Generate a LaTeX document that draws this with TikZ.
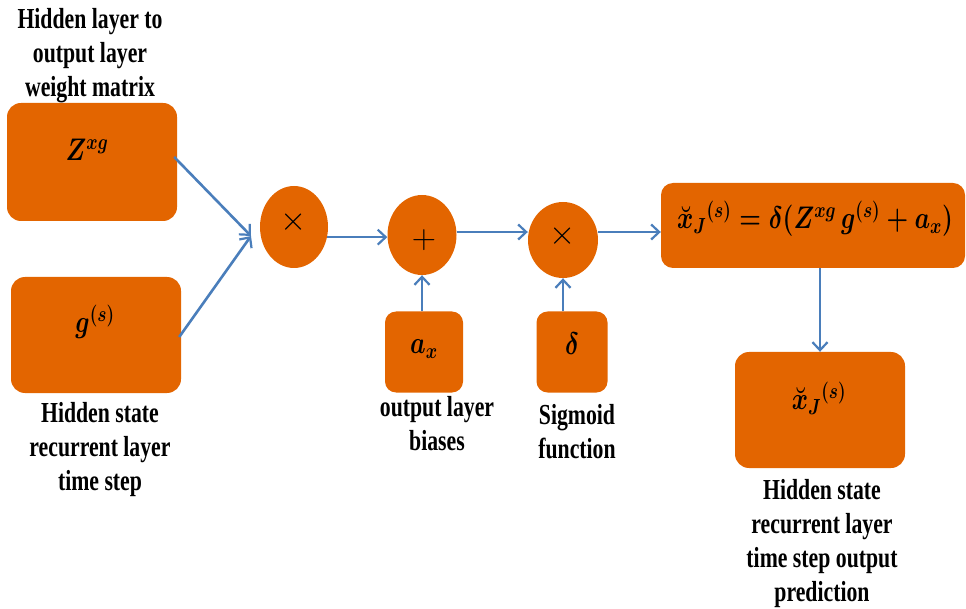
\RequirePackage{fix-cm}
\documentclass[tikz,border=0pt]{standalone}
\usepackage{fontspec}
\setmainfont{Liberation Serif}
\usetikzlibrary{shapes.geometric,arrows.meta,calc}
\definecolor{boxor}{RGB}{227,101,0}
\definecolor{arrblue}{RGB}{74,126,187}
\newcommand{\narrowtext}[1]{\scalebox{0.75}[1]{\begin{tabular}{@{}c@{}}#1\end{tabular}}}
\newcommand{\narrowmath}[1]{\scalebox{1.03}[1.3]{\boldmath$#1$}}
\newcommand{\bigop}[1]{\scalebox{1.4}{$#1$}}
\tikzset{
  box/.style={fill=boxor, draw=none, rounded corners=14pt, inner sep=0pt},
  op/.style={ellipse, fill=boxor, draw=none, inner sep=0pt},
  lbl/.style={align=center, font=\fontsize{29}{34}\selectfont\bfseries, inner sep=0pt},
  mth/.style={font=\fontsize{24}{28}\selectfont, inner sep=0pt},
  opt/.style={font=\fontsize{24}{28}\selectfont, inner sep=0pt},
  arr/.style={draw=arrblue, line width=2.6pt, -{Straight Barb[length=8pt,width=15pt,line width=2.2pt]}}
}
\begin{document}
\begin{tikzpicture}[x=1pt,y=-1pt]
\useasboundingbox (0,0) rectangle (966,609);
% boxes
\node[box, minimum width=170pt, minimum height=118pt] (Z) at (92,162) {};
\node[mth] (tZ) at (87,150) {\narrowmath{Z^{xg}}};
\node[box, minimum width=170pt, minimum height=116pt] (g) at (96,335) {};
\node[mth] (tg) at (95,322) {\narrowmath{g^{(s)}}};
\node[op, minimum width=68pt, minimum height=82pt] (c1) at (294,227) {};
\node[opt] (t1) at (294,222) {\bigop{\times}};
\node[op, minimum width=69pt, minimum height=80pt] (plus) at (422,235) {};
\node[opt] (tp) at (424,240) {\bigop{+}};
\node[op, minimum width=70pt, minimum height=76pt] (c2) at (563,240) {};
\node[opt] (t2) at (563,236) {\bigop{\times}};
\node[box, rounded corners=11pt, minimum width=78pt, minimum height=81pt] (ax) at (424,352) {};
\node[mth] (tax) at (424,349) {\narrowmath{a_x}};
\node[box, rounded corners=11pt, minimum width=71pt, minimum height=81pt] (dl) at (572,352) {};
\node[mth] (tdl) at (572,344) {\narrowmath{\delta}};
\node[box, rounded corners=12pt, minimum width=304pt, minimum height=85pt] (eq) at (813,225.5) {};
\node[mth] (teq) at (815,219) {\narrowmath{\breve{x}_J{}^{(s)} = \delta\big(Z^{xg}\,g^{(s)} + a_x\big)}};
\node[box, minimum width=170pt, minimum height=116pt] (out) at (820,410) {};
\node[mth] (tout) at (819,398) {\narrowmath{\breve{x}_J{}^{(s)}}};
% labels
\node[lbl] (l1) at (90,56) {\narrowtext{Hidden layer to\\output layer\\weight matrix}};
\node[lbl] (l2) at (100,450) {\narrowtext{Hidden state\\recurrent layer\\time step}};
\node[lbl] (l3) at (437,427) {\narrowtext{output layer\\biases}};
\node[lbl] (l4) at (577,435) {\narrowtext{Sigmoid\\function}};
\node[lbl] (l5) at (822,544) {\narrowtext{Hidden state\\recurrent layer\\time step output\\prediction}};
% connectors
\coordinate (m1) at (251,236);
\draw[arr] ($(Z.east)+(-3,-5)$) -- (m1);
\draw[arr] ($(g.east)+(-2,2)$) -- (m1);
\draw[arr] (c1.-17) -- (plus.west |- c1.-17);
\draw[arr] (plus.east |- 0,232) -- (c2.west |- 0,232);
\draw[arr] (c2.east |- 0,232) -- (eq.west |- 0,232);
\draw[arr] (ax.north -| plus.south) -- (plus.south);
\draw[arr] (dl.north -| c2.south) -- (c2.south);
\draw[arr] (eq.south -| out.north) -- (out.north);
\end{tikzpicture}
\end{document}
